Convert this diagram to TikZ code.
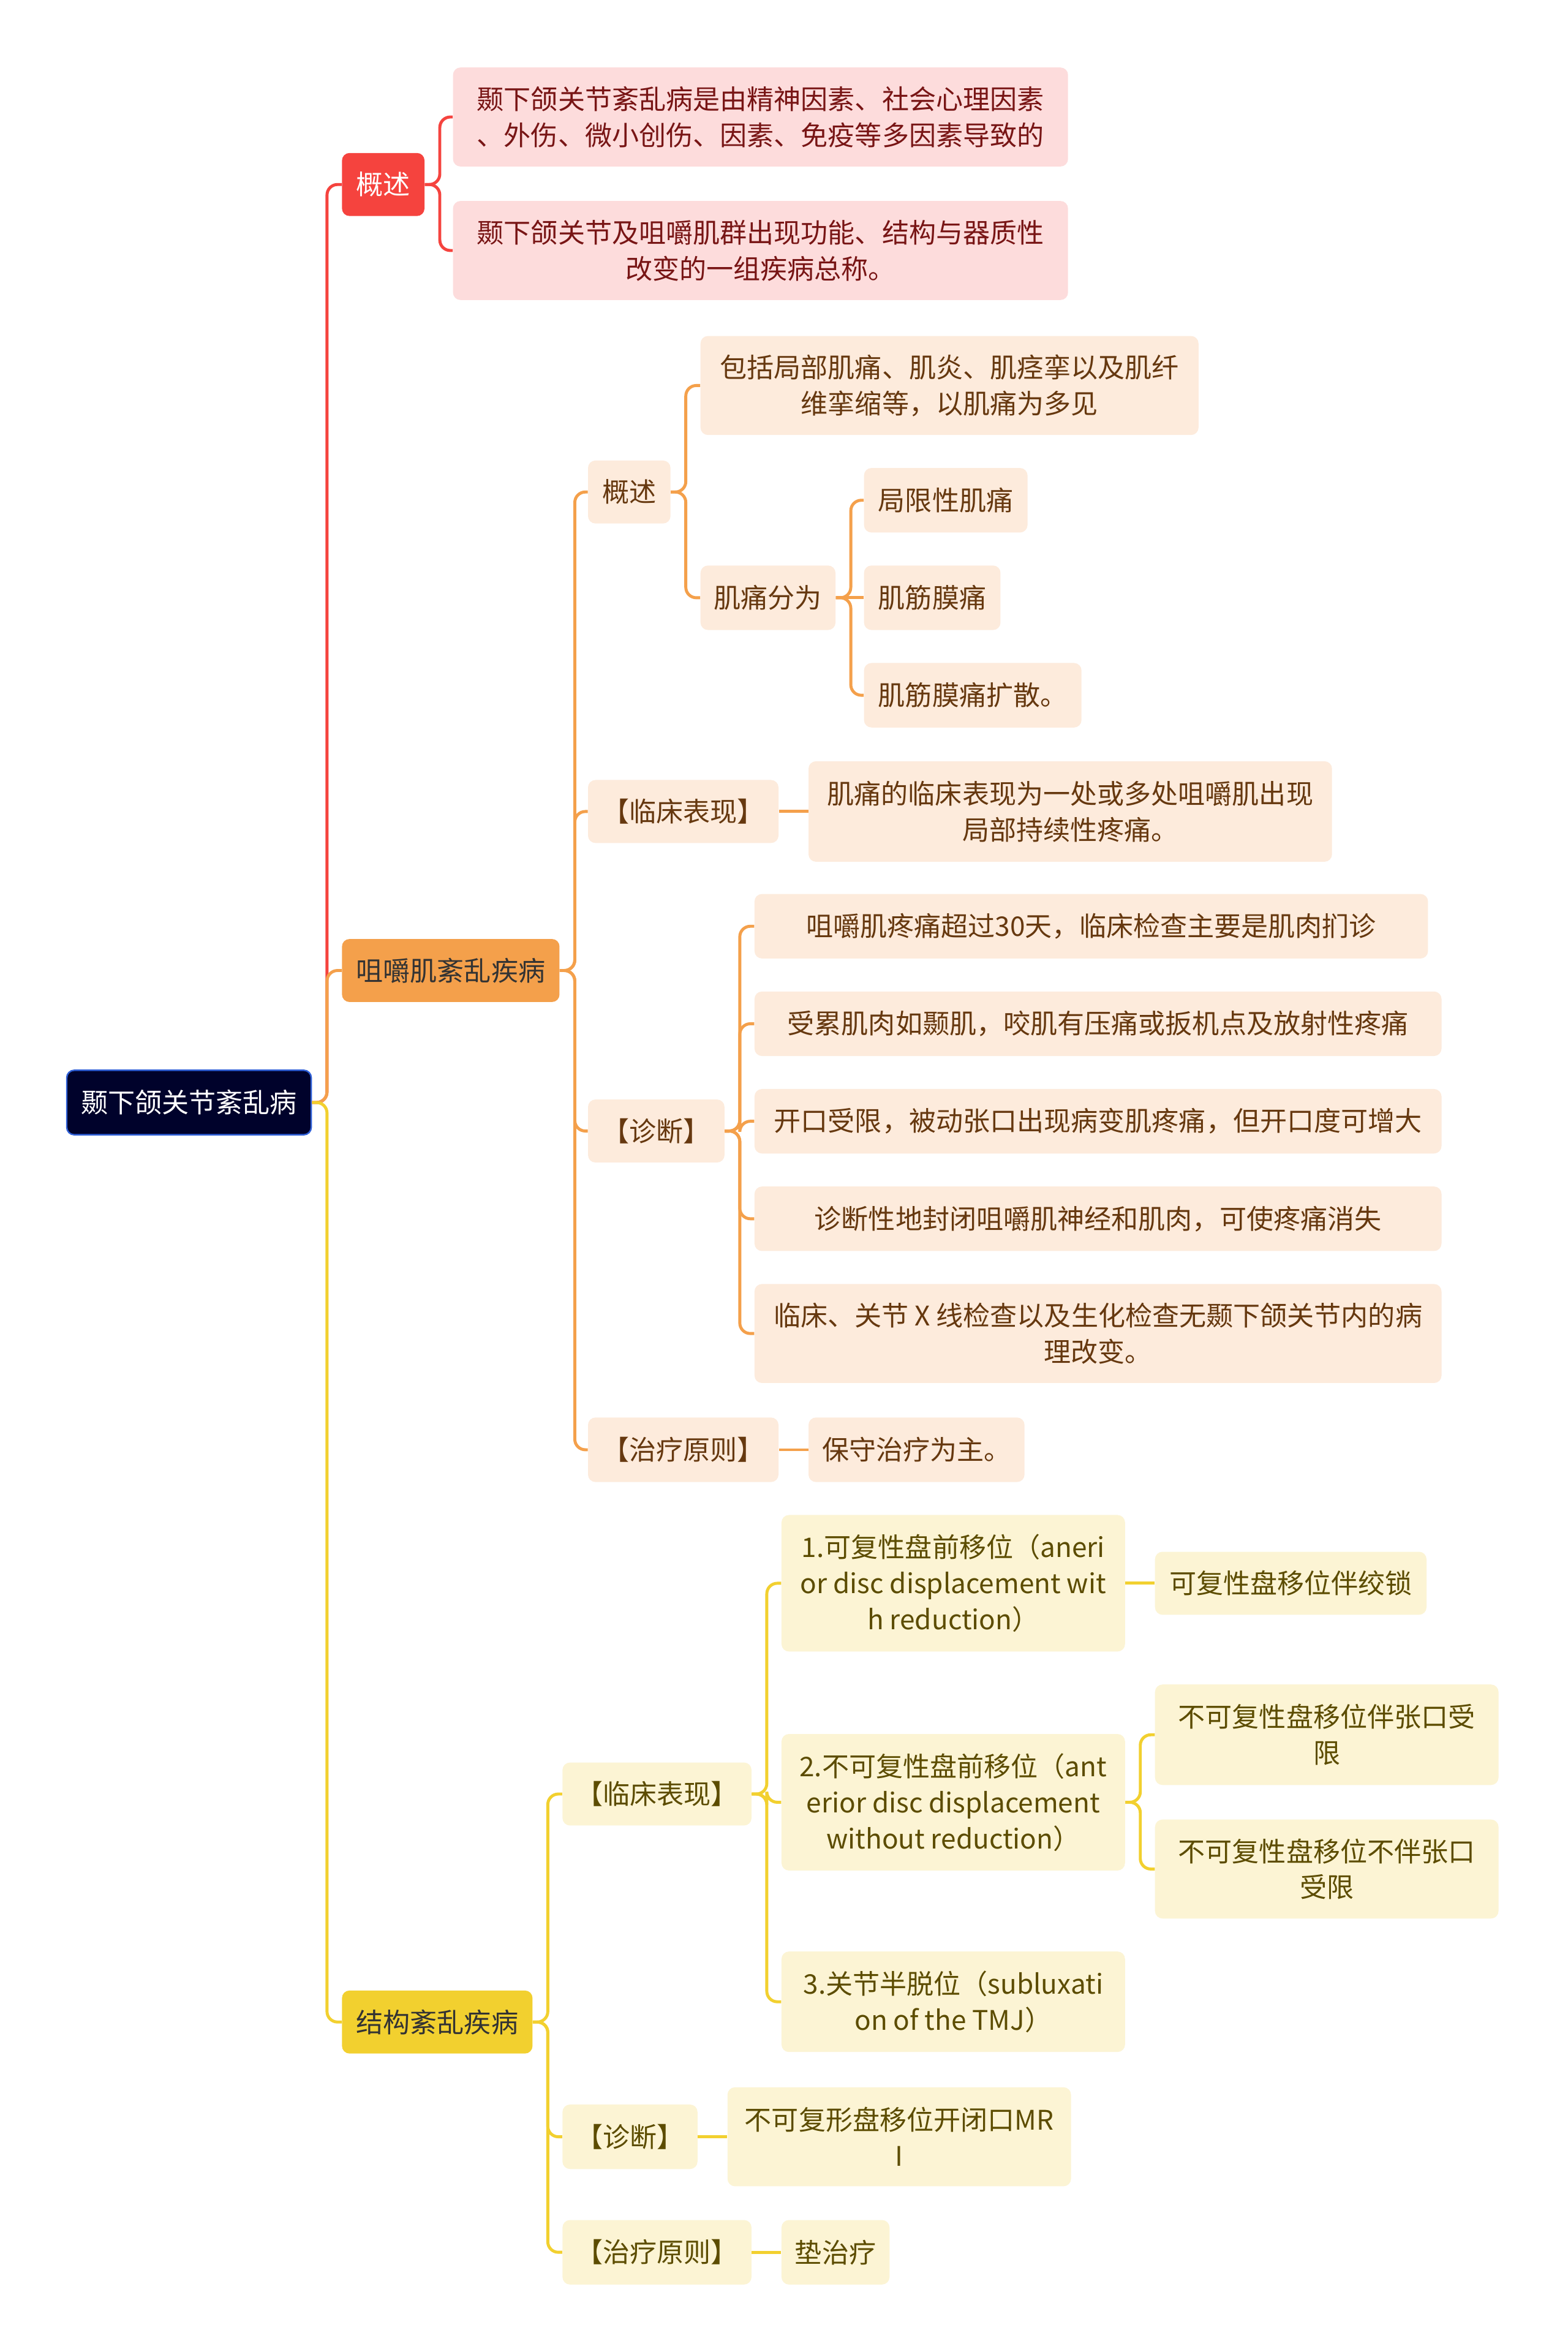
\documentclass[tikz,border=0pt]{standalone}
\usepackage{fontspec}
\setmainfont{Noto Sans CJK SC}
\usepackage{tikz}
\usetikzlibrary{positioning}
\usepackage{xcolor}
\definecolor{navy}{HTML}{00022B}
\definecolor{navyln}{HTML}{2F5FD6}
\definecolor{rd}{HTML}{F5433E}
\definecolor{org}{HTML}{F4A04B}
\definecolor{ylw}{HTML}{F2D02F}
\definecolor{pk}{HTML}{FDDCDC}
\definecolor{pc}{HTML}{FDEBDC}
\definecolor{cr}{HTML}{FCF4D4}
\definecolor{pktx}{HTML}{781515}
\definecolor{pctx}{HTML}{66380F}
\definecolor{crtx}{HTML}{5C4C00}

\begin{document}
\begin{tikzpicture}[x=1pt,y=-1pt,
  box/.style={rounded corners=5pt,inner sep=0pt,align=center,
    font=\fontsize{18}{24}\selectfont},
  rootbox/.style={box,fill=navy,draw=navyln,line width=1pt,text=white},
  redbox/.style={box,fill=rd,text=white},
  orgbox/.style={box,fill=org,text=black!80},
  ylwbox/.style={box,fill=ylw,text=black!80},
  pkbox/.style={box,fill=pk,text=pktx},
  pcbox/.style={box,fill=pc,text=pctx},
  crbox/.style={box,fill=cr,text=crtx},
  conn/.style={line width=2pt,rounded corners=7pt}]
  \fill[white] (0,0) rectangle (1045,1568);
  \useasboundingbox (0,0) rectangle (1045,1568);
  % root and main branches
  \node[rootbox,minimum width=163,minimum height=43] (root) at (126,735) {颞下颌关节紊乱病};
  \node[redbox,minimum width=55,minimum height=42] (gs) at (255.5,123) {概述};
  \node[orgbox,minimum width=145,minimum height=42] (jj) at (300.5,647) {咀嚼肌紊乱疾病};
  \node[ylwbox,minimum width=127,minimum height=42] (jg) at (291.5,1348) {结构紊乱疾病};
  % overview
  \node[pkbox,minimum width=410,minimum height=66] (gs1) at (507,78)
    {颞下颌关节紊乱病是由精神因素、社会心理因素\\、外伤、微小创伤、因素、免疫等多因素导致的};
  \node[pkbox,minimum width=410,minimum height=66] (gs2) at (507,167)
    {颞下颌关节及咀嚼肌群出现功能、结构与器质性\\改变的一组疾病总称。};
  % masticatory muscle disorders
  \node[pcbox,minimum width=55,minimum height=42] (jgs) at (419.5,328) {概述};
  \node[pcbox,minimum width=127,minimum height=42] (jlc) at (455.5,541) {【临床表现】};
  \node[pcbox,minimum width=91,minimum height=42] (jzd) at (437.5,754) {【诊断】};
  \node[pcbox,minimum width=127,minimum height=43] (jzl) at (455.5,966.5) {【治疗原则】};
  \node[pcbox,minimum width=332,minimum height=66] (jgs1) at (633,257)
    {包括局部肌痛、肌炎、肌痉挛以及肌纤\\维挛缩等，以肌痛为多见};
  \node[pcbox,minimum width=90,minimum height=43] (jgs2) at (512,398.5) {肌痛分为};
  \node[pcbox,minimum width=109,minimum height=43] (jt1) at (630.5,333.5) {局限性肌痛};
  \node[pcbox,minimum width=91,minimum height=43] (jt2) at (621.5,398.5) {肌筋膜痛};
  \node[pcbox,minimum width=145,minimum height=43] (jt3) at (648.5,463.5) {肌筋膜痛扩散。};
  \node[pcbox,minimum width=349,minimum height=67] (jlc1) at (713.5,541)
    {肌痛的临床表现为一处或多处咀嚼肌出现\\局部持续性疼痛。};
  \node[pcbox,minimum width=449,minimum height=43] (jzd1) at (727.5,617.5)
    {咀嚼肌疼痛超过30天，临床检查主要是肌肉扪诊};
  \node[pcbox,minimum width=458,minimum height=43] (jzd2) at (732,682.5)
    {受累肌肉如颞肌，咬肌有压痛或扳机点及放射性疼痛};
  \node[pcbox,minimum width=458,minimum height=43] (jzd3) at (732,747.5)
    {开口受限，被动张口出现病变肌疼痛，但开口度可增大};
  \node[pcbox,minimum width=458,minimum height=43] (jzd4) at (732,812.5)
    {诊断性地封闭咀嚼肌神经和肌肉，可使疼痛消失};
  \node[pcbox,minimum width=458,minimum height=66] (jzd5) at (732,889)
    {临床、关节 X 线检查以及生化检查无颞下颌关节内的病\\理改变。};
  \node[pcbox,minimum width=144,minimum height=43] (jzl1) at (611,966.5) {保守治疗为主。};
  % structural disorders
  \node[crbox,minimum width=126,minimum height=42] (ylc) at (438,1196) {【临床表现】};
  \node[crbox,minimum width=90,minimum height=43] (yzd) at (420,1424.5) {【诊断】};
  \node[crbox,minimum width=126,minimum height=43] (yzl) at (438,1501.5) {【治疗原则】};
  \node[crbox,minimum width=229,minimum height=91] (ylc1) at (635.5,1055.5)
    {1.可复性盘前移位（aneri\\or disc displacement wit\\h reduction）};
  \node[crbox,minimum width=229,minimum height=91] (ylc2) at (635.5,1201.5)
    {2.不可复性盘前移位（ant\\erior disc displacement\\without reduction）};
  \node[crbox,minimum width=229,minimum height=67] (ylc3) at (635.5,1334.5)
    {3.关节半脱位（subluxati\\on of the TMJ）};
  \node[crbox,minimum width=181,minimum height=42] (ya1) at (860.5,1055.5) {可复性盘移位伴绞锁};
  \node[crbox,minimum width=229,minimum height=67] (yb1) at (884.5,1156.5)
    {不可复性盘移位伴张口受\\限};
  \node[crbox,minimum width=229,minimum height=66] (yb2) at (884.5,1246)
    {不可复性盘移位不伴张口\\受限};
  \node[crbox,minimum width=229,minimum height=66] (yzd1) at (599.5,1424.5)
    {不可复形盘移位开闭口MR\\I};
  \node[crbox,minimum width=72,minimum height=43] (yzl1) at (557,1501.5) {垫治疗};
  % connectors: branching ones bend at the trunk, single ones run straight
  \foreach \a/\b in {root/gs,gs/gs1,gs/gs2}
    \draw[conn,rd] (\a.east) -- ++(10,0) |- (\b.west);
  \foreach \a/\b in {root/jj,jj/jgs,jj/jlc,jj/jzd,jj/jzl,jgs/jgs1,jgs/jgs2,
      jgs2/jt1,jgs2/jt3,jzd/jzd1,jzd/jzd2,jzd/jzd3,jzd/jzd4,jzd/jzd5}
    \draw[conn,org] (\a.east) -- ++(10,0) |- (\b.west);
  \foreach \a/\b in {jgs2/jt2,jlc/jlc1,jzl/jzl1}
    \draw[conn,org] (\a.east) -- (\b.west);
  \foreach \a/\b in {root/jg,jg/ylc,jg/yzd,jg/yzl,ylc/ylc1,ylc/ylc2,ylc/ylc3,
      ylc2/yb1,ylc2/yb2}
    \draw[conn,ylw] (\a.east) -- ++(10,0) |- (\b.west);
  \foreach \a/\b in {ylc1/ya1,yzd/yzd1,yzl/yzl1}
    \draw[conn,ylw] (\a.east) -- (\b.west);
\end{tikzpicture}
\end{document}
